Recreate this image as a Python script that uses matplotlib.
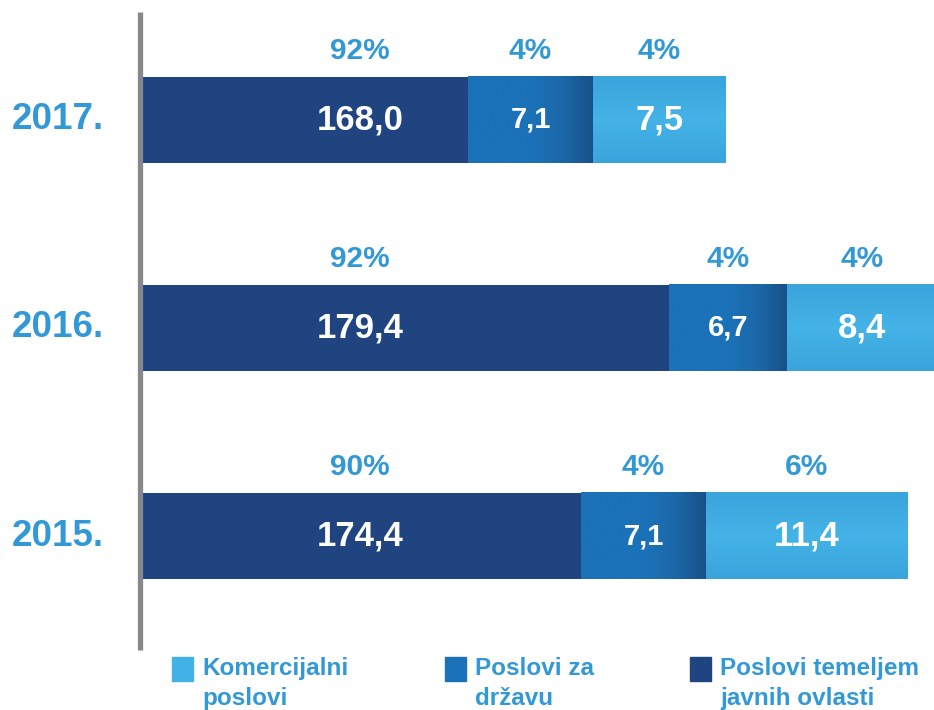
import numpy as np
import matplotlib
matplotlib.use('Agg')
import matplotlib.pyplot as plt
import matplotlib.transforms as mtransforms
from matplotlib.patches import Rectangle
from matplotlib.lines import Line2D
from matplotlib.colors import LinearSegmentedColormap

plt.rcParams['font.family'] = ['Liberation Sans', 'DejaVu Sans']
plt.rcParams['font.weight'] = 'bold'

# data (top to bottom in the picture is 2017, 2016, 2015)
years = ['2015.', '2016.', '2017.']
javne = [174.4, 179.4, 168.0]      # Poslovi temeljem javnih ovlasti
drzava = [7.1, 6.7, 7.1]           # Poslovi za državu
komerc = [11.4, 8.4, 7.5]          # Komercijalni poslovi
pct_javne = ['90%', '92%', '92%']
pct_drzava = ['4%', '4%', '4%']
pct_komerc = ['6%', '4%', '4%']
legend_labels = ['Komercijalni\nposlovi', 'Poslovi za\ndržavu', 'Poslovi temeljem\njavnih ovlasti']

c_dark = '#1f4480'
c_mid = '#1b72b8'
c_light = '#42b1e5'
c_text = '#3399d6'

fig = plt.figure(figsize=(9.34, 7.10), dpi=100)
ax = fig.add_axes([143/934, 1 - 650/710, 1 - 143/934, 638/710])
ax.set_xlim(149.6, 194.4)
ax.set_ylim(-0.548, 2.519)
ax.axis('off')

y = np.arange(len(years))
h = 0.415

def fmt(v):
    return f'{v:.1f}'.replace('.', ',')

# gradients for the middle and light segments
mid_cmap = LinearSegmentedColormap.from_list('mid', [c_mid, c_mid, c_mid, '#1c68a8', '#18508a'])
light_cmap = LinearSegmentedColormap.from_list('light', ['#3aa4dc', '#44b3e6', '#3aa4dc'])
blend = mtransforms.blended_transform_factory(ax.transAxes, ax.transData)

for i in range(len(years)):
    left2 = javne[i]
    left3 = javne[i] + drzava[i]
    ax.barh(y[i], javne[i], height=h, color=c_dark, zorder=2)
    # middle segment, darker toward the right edge
    grad = np.linspace(0, 1, 256).reshape(1, -1)
    ax.imshow(grad, cmap=mid_cmap, aspect='auto', interpolation='bicubic',
              extent=[left2, left3, y[i] - h/2, y[i] + h/2], zorder=3)
    # light segment, brighter in the middle
    vg = np.linspace(0, 1, 128).reshape(-1, 1) * np.ones((1, 4))
    ax.imshow(vg, cmap=light_cmap, aspect='auto', interpolation='bicubic',
              extent=[left3, left3 + komerc[i], y[i] - h/2, y[i] + h/2], zorder=3)

    # value labels
    ax.text(0.274, y[i], fmt(javne[i]), transform=blend,
            ha='center', va='center', color='white', fontsize=25, fontweight='bold', zorder=5)
    ax.text(left2 + drzava[i] / 2, y[i], fmt(drzava[i]), ha='center', va='center',
            color='white', fontsize=21, fontweight='bold', zorder=5)
    ax.text(left3 + komerc[i] / 2, y[i], fmt(komerc[i]), ha='center', va='center',
            color='white', fontsize=25, fontweight='bold', zorder=5)

    # percent labels above
    ty = y[i] + 0.33
    ax.text(0.274, ty, pct_javne[i], transform=blend,
            ha='center', va='center', color=c_text, fontsize=21.5, fontweight='bold')
    ax.text(left2 + drzava[i] / 2, ty, pct_drzava[i], ha='center', va='center',
            color=c_text, fontsize=21.5, fontweight='bold')
    ax.text(left3 + komerc[i] / 2, ty, pct_komerc[i], ha='center', va='center',
            color=c_text, fontsize=21.5, fontweight='bold')

# year labels on the left, in figure x and data y
year_tr = mtransforms.blended_transform_factory(fig.transFigure, ax.transData)
for i in range(len(years)):
    fig.text(58/934, y[i], years[i], transform=year_tr, ha='center', va='center',
             color=c_text, fontsize=26.5, fontweight='bold')

# gray vertical rule
fig.add_artist(Line2D([140/934, 140/934], [1 - 12/710, 1 - 650/710],
                      color='#888888', linewidth=3.8, solid_capstyle='butt'))

# legend
leg_x = [172, 445, 690]
leg_cols = [c_light, c_mid, c_dark]
for lx, col, lab in zip(leg_x, leg_cols, legend_labels):
    fig.add_artist(Rectangle((lx/934, 1 - 681/710), 21/934, 24/710,
                             transform=fig.transFigure, color=col))
    fig.text((lx + 30)/934, 1 - 657/710, lab, ha='left', va='top', color=c_text,
             fontsize=17.5, fontweight='bold', linespacing=1.4)

fig.savefig('out.png', dpi=100)
